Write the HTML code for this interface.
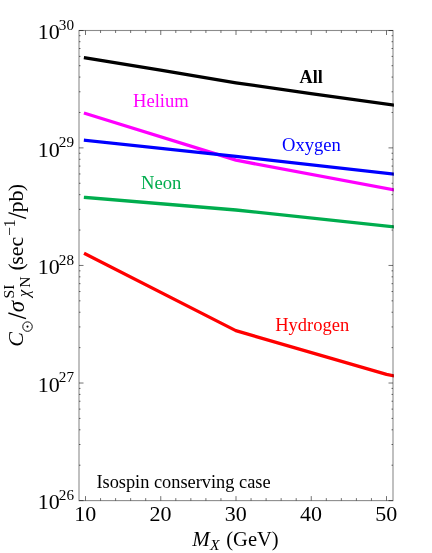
<!DOCTYPE html>
<html><head><meta charset="utf-8"><title>chart</title>
<style>
html,body{margin:0;padding:0;background:#fff;}
svg{display:block;will-change:transform;transform:translateZ(0)}
text{font-family:"Liberation Serif",serif}
</style></head><body>
<svg width="432" height="553" viewBox="0 0 432 553">
<rect width="432" height="553" fill="#fff"/>
<defs><clipPath id="c"><rect x="79.0" y="30.5" width="314.9" height="470.1"/></clipPath></defs>
<path d="M85.50 57.80 L160.50 70.20 L236.00 82.80 L311.00 93.70 L393.60 105.10" stroke="#000000" stroke-width="3.3" fill="none" stroke-linejoin="round" stroke-linecap="square" clip-path="url(#c)"/>
<path d="M85.50 113.50 L236.00 160.20 L393.60 189.80" stroke="#ff00ff" stroke-width="3.3" fill="none" stroke-linejoin="round" stroke-linecap="square" clip-path="url(#c)"/>
<path d="M85.50 140.30 L236.00 156.40 L393.60 174.10" stroke="#0000ff" stroke-width="3.3" fill="none" stroke-linejoin="round" stroke-linecap="square" clip-path="url(#c)"/>
<path d="M85.50 197.50 L236.00 210.00 L393.60 226.90" stroke="#00ad4e" stroke-width="3.3" fill="none" stroke-linejoin="round" stroke-linecap="square" clip-path="url(#c)"/>
<path d="M85.50 254.00 L235.80 330.65 L386.50 374.40 L393.60 375.75" stroke="#ff0000" stroke-width="3.3" fill="none" stroke-linejoin="round" stroke-linecap="square" clip-path="url(#c)"/>
<rect x="79.0" y="30.5" width="314.0" height="470.1" fill="none" stroke="#000" stroke-opacity="0.45" stroke-width="1.1"/>
<path d="M85.50 500.6 v-4.5 M85.50 30.5 v4.5 M100.55 500.6 v-2.5 M100.55 30.5 v2.5 M115.60 500.6 v-2.5 M115.60 30.5 v2.5 M130.65 500.6 v-2.5 M130.65 30.5 v2.5 M145.70 500.6 v-2.5 M145.70 30.5 v2.5 M160.75 500.6 v-4.5 M160.75 30.5 v4.5 M175.80 500.6 v-2.5 M175.80 30.5 v2.5 M190.85 500.6 v-2.5 M190.85 30.5 v2.5 M205.90 500.6 v-2.5 M205.90 30.5 v2.5 M220.95 500.6 v-2.5 M220.95 30.5 v2.5 M236.00 500.6 v-4.5 M236.00 30.5 v4.5 M251.05 500.6 v-2.5 M251.05 30.5 v2.5 M266.10 500.6 v-2.5 M266.10 30.5 v2.5 M281.15 500.6 v-2.5 M281.15 30.5 v2.5 M296.20 500.6 v-2.5 M296.20 30.5 v2.5 M311.25 500.6 v-4.5 M311.25 30.5 v4.5 M326.30 500.6 v-2.5 M326.30 30.5 v2.5 M341.35 500.6 v-2.5 M341.35 30.5 v2.5 M356.40 500.6 v-2.5 M356.40 30.5 v2.5 M371.45 500.6 v-2.5 M371.45 30.5 v2.5 M386.50 500.6 v-4.5 M386.50 30.5 v4.5 M79.0 500.60 h4.5 M393.0 500.60 h-4.5 M79.0 465.21 h1.5 M393.0 465.21 h-1.5 M79.0 444.50 h1.5 M393.0 444.50 h-1.5 M79.0 429.81 h1.5 M393.0 429.81 h-1.5 M79.0 418.42 h1.5 M393.0 418.42 h-1.5 M79.0 409.11 h1.5 M393.0 409.11 h-1.5 M79.0 401.24 h1.5 M393.0 401.24 h-1.5 M79.0 394.42 h1.5 M393.0 394.42 h-1.5 M79.0 388.40 h1.5 M393.0 388.40 h-1.5 M79.0 383.03 h4.5 M393.0 383.03 h-4.5 M79.0 347.63 h1.5 M393.0 347.63 h-1.5 M79.0 326.93 h1.5 M393.0 326.93 h-1.5 M79.0 312.24 h1.5 M393.0 312.24 h-1.5 M79.0 300.84 h1.5 M393.0 300.84 h-1.5 M79.0 291.53 h1.5 M393.0 291.53 h-1.5 M79.0 283.66 h1.5 M393.0 283.66 h-1.5 M79.0 276.84 h1.5 M393.0 276.84 h-1.5 M79.0 270.83 h1.5 M393.0 270.83 h-1.5 M79.0 265.45 h4.5 M393.0 265.45 h-4.5 M79.0 230.06 h1.5 M393.0 230.06 h-1.5 M79.0 209.35 h1.5 M393.0 209.35 h-1.5 M79.0 194.66 h1.5 M393.0 194.66 h-1.5 M79.0 183.27 h1.5 M393.0 183.27 h-1.5 M79.0 173.96 h1.5 M393.0 173.96 h-1.5 M79.0 166.09 h1.5 M393.0 166.09 h-1.5 M79.0 159.27 h1.5 M393.0 159.27 h-1.5 M79.0 153.25 h1.5 M393.0 153.25 h-1.5 M79.0 147.88 h4.5 M393.0 147.88 h-4.5 M79.0 112.48 h1.5 M393.0 112.48 h-1.5 M79.0 91.78 h1.5 M393.0 91.78 h-1.5 M79.0 77.09 h1.5 M393.0 77.09 h-1.5 M79.0 65.69 h1.5 M393.0 65.69 h-1.5 M79.0 56.38 h1.5 M393.0 56.38 h-1.5 M79.0 48.51 h1.5 M393.0 48.51 h-1.5 M79.0 41.69 h1.5 M393.0 41.69 h-1.5 M79.0 35.68 h1.5 M393.0 35.68 h-1.5 M79.0 30.5 h4.5 M393.0 30.5 h-4.5" stroke="#000" stroke-opacity="0.7" stroke-width="0.8" fill="none"/>
<text x="37.8" y="509.30" font-size="22">10</text><text x="58.8" y="499.90" font-size="15.2">26</text>
<text x="37.8" y="391.78" font-size="22">10</text><text x="58.8" y="382.38" font-size="15.2">27</text>
<text x="37.8" y="274.25" font-size="22">10</text><text x="58.8" y="264.85" font-size="15.2">28</text>
<text x="37.8" y="156.72" font-size="22">10</text><text x="58.8" y="147.32" font-size="15.2">29</text>
<text x="37.8" y="39.20" font-size="22">10</text><text x="58.8" y="29.80" font-size="15.2">30</text>
<text x="85.30" y="521" font-size="22" text-anchor="middle">10</text>
<text x="160.55" y="521" font-size="22" text-anchor="middle">20</text>
<text x="235.80" y="521" font-size="22" text-anchor="middle">30</text>
<text x="311.05" y="521" font-size="22" text-anchor="middle">40</text>
<text x="386.30" y="521" font-size="22" text-anchor="middle">50</text>
<text x="192.3" y="546.4" font-size="21" font-style="italic">M</text>
<text x="209.9" y="550.4" font-size="15.6" font-style="italic">X</text>
<text x="226.3" y="546.4" font-size="20.5">(GeV)</text>
<g transform="translate(23.4,347) rotate(-90)"><text x="0.2" y="0" font-size="22" font-style="italic">C</text><circle cx="20.4" cy="4.1" r="4.75" fill="none" stroke="#000" stroke-width="0.95"/><circle cx="20.4" cy="4.1" r="1.05" fill="#000"/><path d="M28.3 2.6 L34.0 -15.0" stroke="#000" stroke-width="1.35" fill="none"/><text x="34.8" y="0.2" font-size="22.8" font-style="italic">&#963;</text><text x="48.6" y="-9.5" font-size="15.6">SI</text><text x="49.9" y="6.0" font-size="16.4" font-style="italic">&#967;</text><text x="59.2" y="6.2" font-size="15.6">N</text><text x="76.4" y="0" font-size="22">(</text><text x="82.2" y="0" font-size="22">sec</text><text x="111.2" y="-8.8" font-size="15.6">&#8722;</text><text x="119.4" y="-8.8" font-size="16.6">1</text><path d="M128.6 2.7 L134.3 -14.9" stroke="#000" stroke-width="1.35" fill="none"/><text x="134.4" y="0" font-size="22">pb</text><text x="155.7" y="0" font-size="22">)</text></g>
<text x="299.6" y="83.3" font-size="18.2" font-weight="bold">All</text>
<text x="133" y="107" font-size="18.6" fill="#ff00ff">Helium</text>
<text x="282" y="151.1" font-size="18.6" fill="#0000ff">Oxygen</text>
<text x="141" y="189" font-size="18.6" fill="#00ad4e">Neon</text>
<text x="275.2" y="330.9" font-size="18.5" fill="#ff0000">Hydrogen</text>
<text x="96.4" y="488" font-size="18.35">Isospin conserving case</text>
</svg>
</body></html>
